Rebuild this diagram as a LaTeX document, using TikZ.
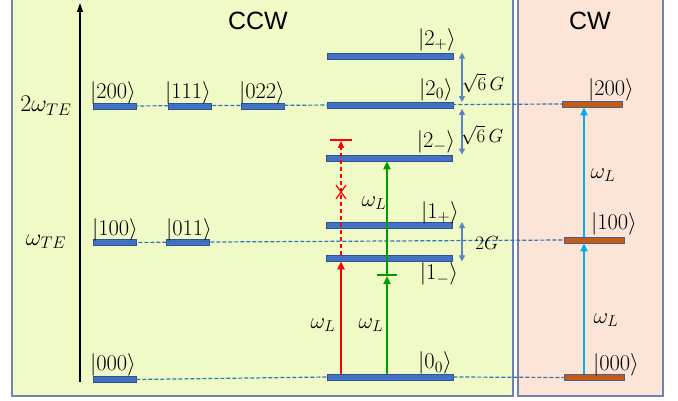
\RequirePackage{fix-cm}
\documentclass[tikz,border=0pt]{standalone}
\usepackage{fontspec}
\setsansfont{Liberation Sans}
\usetikzlibrary{arrows.meta}
\definecolor{ccwfill}{RGB}{240,250,198}
\definecolor{cwfill}{RGB}{252,228,214}
\definecolor{panelline}{RGB}{110,130,180}
\definecolor{barfill}{RGB}{68,114,196}
\definecolor{bardraw}{RGB}{47,82,143}
\definecolor{obarfill}{RGB}{197,90,17}
\definecolor{obardraw}{RGB}{75,95,150}
\definecolor{dashblue}{RGB}{46,117,182}
\definecolor{coupblue}{RGB}{91,130,204}
\definecolor{laserred}{RGB}{255,0,0}
\definecolor{lasergreen}{RGB}{0,155,0}
\definecolor{cwblue}{RGB}{0,176,240}
\newcommand{\kt}[1]{\ensuremath{|#1\rangle}}
\begin{document}
\begin{tikzpicture}[x=1pt,y=-1pt,
  panel/.style={draw=panelline,line width=1.5pt},
  title/.style={font=\sffamily\fontsize{25}{25}\selectfont,inner sep=0pt},
  bar/.style={draw=bardraw,fill=barfill,line width=0.8pt,inner sep=0pt,minimum height=6pt,minimum width=43pt},
  midbar/.style={bar,minimum width=126pt},
  obar/.style={draw=obardraw,fill=obarfill,line width=0.8pt,inner sep=0pt,minimum height=6pt,minimum width=60pt},
  ketlbl/.style={font=\fontsize{22.5}{22.5}\selectfont,inner sep=0pt},
  axlbl/.style={font=\fontsize{24}{24}\selectfont,inner sep=0pt},
  wlbl/.style={font=\fontsize{22.5}{22.5}\selectfont,inner sep=0pt},
  glbl/.style={font=\fontsize{19}{19}\selectfont,inner sep=0pt},
  dashline/.style={draw=dashblue,line width=1.2pt,dash pattern=on 4pt off 2pt},
  coup/.style={draw=coupblue,line width=1.2pt,{Triangle[length=6pt,width=6pt]}-{Triangle[length=6pt,width=6pt]}},
  laser/.style={line width=2.6pt,-{Triangle[length=8pt,width=7pt]}}
]
\useasboundingbox (0,0) rectangle (678,401);
% panels
\path[panel,fill=ccwfill] (12,-5) rectangle (513,396);
\path[panel,fill=cwfill] (518,-5) rectangle (663,396);
\node[title] (tccw) at (258,21) {CCW};
\node[title] (tcw) at (590,21) {CW};
% axis
\coordinate (axb) at (80,382);
\coordinate (axt) at (80,3);
\draw[line width=1.2pt,-{Triangle[length=9pt,width=6pt]}] (axb) -- (axt);
\node[axlbl] (l2w) at (46,106) {$2\omega_{TE}$};
\node[axlbl] (lw) at (46,242) {$\omega_{TE}$};
% left bars
\node[bar] (b200) at (114.5,106) {};
\node[bar] (b111) at (189.5,106) {};
\node[bar] (b022) at (262.5,106) {};
\node[bar] (b100) at (114.5,242.5) {};
\node[bar] (b011) at (188,242.5) {};
\node[bar] (b000) at (114.5,379.5) {};
% middle bars
\node[midbar] (m2p) at (390,56) {};
\node[midbar] (m20) at (390,105.5) {};
\node[midbar] (m2m) at (389,158) {};
\node[midbar] (m1p) at (389,225.5) {};
\node[midbar] (m1m) at (389,258) {};
\node[midbar] (g0) at (390,377) {};
% CW bars
\node[obar] (c200) at (592.5,104) {};
\node[obar] (c100) at (594,240) {};
\node[obar] (c000) at (594,377.5) {};
% dashed lines
\draw[dashline] ([xshift=-14pt]b200.east) -- (c200.west);
\draw[dashline] ([xshift=-10pt]b100.east) -- (c100.west);
\draw[dashline] (b000.east) -- (g0.west);
\draw[dashline] (g0.east) -- (c000.west);
% ket labels
\node[ketlbl] (k200) at (113,93) {\kt{200}};
\node[ketlbl] (k111) at (188,93) {\kt{111}};
\node[ketlbl] (k022) at (262,93) {\kt{022}};
\node[ketlbl] (k100) at (115,230) {\kt{100}};
\node[ketlbl] (k011) at (189,230) {\kt{011}};
\node[ketlbl] (k000) at (113,365) {\kt{000}};
\node[ketlbl] (k2p) at (437,40) {\kt{2_+}};
\node[ketlbl] (k20) at (436,90) {\kt{2_0}};
\node[ketlbl] (k2m) at (436,142) {\kt{2_-}};
\node[ketlbl] (k1p) at (440,213) {\kt{1_+}};
\node[ketlbl] (k1m) at (439,274) {\kt{1_-}};
\node[ketlbl] (k00) at (435,363) {\kt{0_0}};
\node[ketlbl] (kc200) at (611,90) {\kt{200}};
\node[ketlbl] (kc100) at (614,224) {\kt{100}};
\node[ketlbl] (kc000) at (616,365) {\kt{000}};
% coupling arrows
\coordinate (cpx) at (462,0);
\draw[coup] (cpx |- m2p.north) -- (cpx |- m20.north);
\draw[coup] (cpx |- m20.south) -- (cpx |- m2m.north);
\draw[coup] (cpx |- m1p.north) -- (cpx |- m1m.south);
\node[glbl] (s6a) at (483,83) {$\sqrt{6}\,G$};
\node[glbl] (s6b) at (482,135) {$\sqrt{6}\,G$};
\node[glbl] (g2) at (487,243) {$2G$};
% red path
\coordinate (rx) at (341,0);
\coordinate (rt) at (341,140);
\draw[laser,laserred] (rx |- g0.north) -- (rx |- m1m.south);
\draw[laserred,line width=1.2pt,dash pattern=on 4pt off 3pt,-{Triangle[length=7pt,width=6pt]}] (rx |- m1m.north) -- ([yshift=-0.8pt]rt);
\draw[laserred,line width=1.2pt] ([xshift=-11pt]rt) -- ([xshift=11pt]rt);
\coordinate (xm) at (341,192);
\draw[laserred,line width=1.2pt] ([shift={(-5pt,7pt)}]xm) -- ([shift={(5pt,-7pt)}]xm);
\draw[laserred,line width=1.2pt] ([shift={(-5pt,-7pt)}]xm) -- ([shift={(5pt,7pt)}]xm);
% green path
\coordinate (gx) at (387,0);
\coordinate (gt) at (387,275);
\draw[laser,lasergreen] (gx |- g0.north) -- ([yshift=-1pt]gt);
\draw[lasergreen,line width=1.2pt] ([xshift=-10pt]gt) -- ([xshift=10pt]gt);
\draw[laser,lasergreen] (gt) -- (gx |- m2m.south);
% CW arrows
\coordinate (cx) at (584,0);
\draw[laser,cwblue] (cx |- c000.north) -- (cx |- c100.south);
\draw[laser,cwblue] (cx |- c100.north) -- (cx |- c200.south);
% omega_L labels
\node[wlbl] (wr) at (323,325) {$\omega_L$};
\node[wlbl] (wg) at (371,325) {$\omega_L$};
\node[wlbl] (wg2) at (374,203) {$\omega_L$};
\node[wlbl] (wc1) at (603,175) {$\omega_L$};
\node[wlbl] (wc2) at (606,320) {$\omega_L$};
\end{tikzpicture}
\end{document}
